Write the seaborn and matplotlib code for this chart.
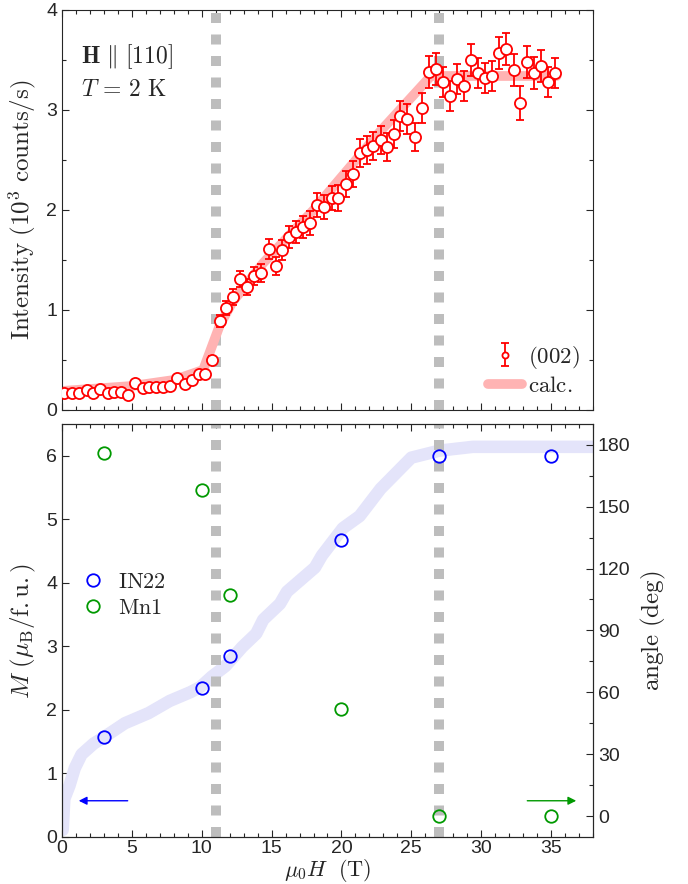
import numpy as np
import pandas as pd
import matplotlib
matplotlib.use('Agg')
import matplotlib.pyplot as plt
from matplotlib.ticker import MultipleLocator
import seaborn as sns

# top panel: (002) intensity vs field
field = [0.16, 0.75, 1.23, 1.76, 2.19, 2.72, 3.26, 3.74, 4.22, 4.75,
         5.25, 5.78, 6.26, 6.73, 7.21, 7.76, 8.24, 8.77, 9.29, 9.77,
         10.25, 10.75, 11.28, 11.76, 12.24, 12.76, 13.26, 13.74, 14.27, 14.79,
         15.29, 15.77, 16.25, 16.78, 17.26, 17.78, 18.26, 18.76, 19.29, 19.77,
         20.29, 20.8, 21.32, 21.8, 22.27, 22.8, 23.28, 23.76, 24.19, 24.71,
         25.27, 25.79, 26.27, 26.77, 27.3, 27.78, 28.3, 28.78, 29.26, 29.78,
         30.29, 30.77, 31.29, 31.79, 32.32, 32.8, 33.28, 33.8, 34.3, 34.78,
         35.26]
intensity = [0.17, 0.17, 0.17, 0.20, 0.17, 0.21, 0.17, 0.18, 0.18, 0.15,
             0.27, 0.22, 0.23, 0.23, 0.23, 0.24, 0.32, 0.26, 0.30, 0.36,
             0.36, 0.50, 0.89, 1.02, 1.13, 1.31, 1.23, 1.34, 1.37, 1.61,
             1.44, 1.60, 1.73, 1.78, 1.83, 1.87, 2.05, 2.03, 2.12, 2.12,
             2.26, 2.36, 2.57, 2.60, 2.64, 2.70, 2.63, 2.76, 2.94, 2.91,
             2.73, 3.02, 3.38, 3.41, 3.28, 3.14, 3.31, 3.24, 3.50, 3.37,
             3.32, 3.34, 3.57, 3.61, 3.40, 3.07, 3.48, 3.37, 3.44, 3.28,
             3.37]
intensity_err = [0.02, 0.02, 0.02, 0.02, 0.02, 0.02, 0.02, 0.02, 0.02, 0.02,
                 0.025, 0.02, 0.025, 0.025, 0.025, 0.025, 0.03, 0.025, 0.03, 0.03,
                 0.03, 0.04, 0.06, 0.07, 0.08, 0.08, 0.08, 0.09, 0.09, 0.10,
                 0.09, 0.10, 0.11, 0.11, 0.11, 0.12, 0.12, 0.12, 0.12, 0.13,
                 0.13, 0.13, 0.14, 0.14, 0.14, 0.14, 0.14, 0.14, 0.15, 0.15,
                 0.14, 0.15, 0.16, 0.16, 0.15, 0.15, 0.15, 0.15, 0.16, 0.15,
                 0.15, 0.15, 0.16, 0.16, 0.16, 0.17, 0.16, 0.16, 0.16, 0.15,
                 0.15]

calc_field = [0.0, 5.0, 8.0, 10.1, 11.3, 12.2, 14.4, 18.0, 22.8, 26.4, 35.4]
calc_int = [0.19, 0.24, 0.30, 0.40, 0.85, 1.08, 1.47, 2.00, 2.79, 3.34, 3.34]

# bottom panel: magnetisation and angle
m_field = [0.05, 0.17, 0.54, 0.91, 1.4, 2.27, 3.0, 4.5, 6.2, 7.7, 9.2, 9.9,
           10.7, 11.7, 12.9, 13.9, 14.4, 15.6, 16.1, 18.1, 18.6, 20.1, 21.3,
           22.8, 25.0, 27.0, 29.4, 38.0]
m_calc = [0.11, 0.60, 0.81, 1.08, 1.30, 1.47, 1.57, 1.79, 1.95, 2.14, 2.28, 2.36,
          2.52, 2.69, 2.99, 3.20, 3.42, 3.67, 3.86, 4.24, 4.43, 4.86, 5.05,
          5.48, 5.97, 6.08, 6.14, 6.14]

in22_field = [3, 10, 12, 20, 27, 35]
in22_m = [1.58, 2.35, 2.85, 4.68, 6.0, 6.0]
mn1_field = [3, 10, 12, 20, 27, 35]
mn1_angle = [176, 158, 107, 52, 0, 0]

transitions = [11, 27]

sns.set_style('ticks')
plt.rcParams['font.family'] = ['Liberation Sans', 'DejaVu Sans']
plt.rcParams['mathtext.fontset'] = 'cm'
plt.rcParams['xtick.direction'] = 'in'
plt.rcParams['ytick.direction'] = 'in'
plt.rcParams['axes.edgecolor'] = '#262626'
plt.rcParams['axes.linewidth'] = 0.8

fig = plt.figure(figsize=(6.88, 8.84), dpi=100)
ax1 = fig.add_axes([0.0901, 0.5362, 0.7718, 0.4525])
ax2 = fig.add_axes([0.0901, 0.0532, 0.7718, 0.4672])

grey = '#bdbdbd'
lab_fs = 18
tick_fs = 14

# ---- top panel
for t in transitions:
    ax1.axvline(t, color=grey, lw=7.2, linestyle=(0, (1.0, 1.15)),
                dash_capstyle='butt', zorder=1)
df_calc = pd.DataFrame({'B': calc_field, 'I': calc_int})
sns.lineplot(data=df_calc, x='B', y='I', ax=ax1, color='#ffb3b3', lw=7,
             sort=False, estimator=None, label=r'$\mathrm{calc.}$', zorder=2)
ax1.errorbar(field, intensity, yerr=intensity_err, fmt='o', color='red',
             mfc='white', ms=8, mew=1.3, capsize=3, elinewidth=1.3,
             capthick=1.3, label=r'$\mathrm{(002)}$', zorder=3)

ax1.set_xlim(0, 38)
ax1.set_ylim(0, 4)
ax1.xaxis.set_major_locator(MultipleLocator(5))
ax1.xaxis.set_minor_locator(MultipleLocator(1))
ax1.yaxis.set_major_locator(MultipleLocator(1))
ax1.yaxis.set_minor_locator(MultipleLocator(0.5))
ax1.tick_params(which='both', top=True, right=True, labelbottom=False,
                labelsize=tick_fs)
ax1.tick_params(which='major', length=5, width=0.8)
ax1.tick_params(which='minor', length=3, width=0.8)
ax1.set_xlabel('')
ax1.set_ylabel(r'$\mathrm{Intensity\ (10^3\ counts/s)}$', fontsize=lab_fs,
               labelpad=6)
ax1.text(1.38, 3.53, r'$\mathbf{H}\ \|\ [110]$', fontsize=17, va='center')
ax1.text(1.38, 3.20, r'$T\, =\, 2\ \mathrm{K}$', fontsize=17, va='center')

h, l = ax1.get_legend_handles_labels()
ax1.legend([h[1], h[0]], [l[1], l[0]], loc='lower right', frameon=False,
           fontsize=16.5, markerscale=0.55, handlelength=1.45, handletextpad=0.3,
           labelspacing=0.15, borderaxespad=0.15)

# ---- bottom panel
for t in transitions:
    ax2.axvline(t, color=grey, lw=7.2, linestyle=(0, (1.0, 1.15)),
                dash_capstyle='butt', zorder=2)
df_m = pd.DataFrame({'B': m_field, 'M': m_calc})
sns.lineplot(data=df_m, x='B', y='M', ax=ax2, color='#e4e4fa', lw=9,
             sort=False, estimator=None, zorder=1, legend=False)
df_in22 = pd.DataFrame({'B': in22_field, 'M': in22_m})
sns.lineplot(data=df_in22, x='B', y='M', ax=ax2, linestyle='', marker='o',
             ms=9, mfc='none', mec='blue', mew=1.3, color='blue',
             estimator=None, zorder=4, label=r'$\mathrm{IN22}$')

ax3 = ax2.twinx()
df_mn1 = pd.DataFrame({'B': mn1_field, 'angle': mn1_angle})
sns.lineplot(data=df_mn1, x='B', y='angle', ax=ax3, linestyle='', marker='o',
             ms=9, mfc='none', mec='#009900', mew=1.3, color='#009900',
             estimator=None, zorder=4, label=r'$\mathrm{Mn1}$')

ax2.set_xlim(0, 38)
ax2.set_ylim(0, 6.5)
ax3.set_ylim(-10, 190)
ax2.xaxis.set_major_locator(MultipleLocator(5))
ax2.xaxis.set_minor_locator(MultipleLocator(1))
ax2.yaxis.set_major_locator(MultipleLocator(1))
ax3.yaxis.set_major_locator(MultipleLocator(30))
ax3.yaxis.set_minor_locator(MultipleLocator(15))
ax2.tick_params(which='both', top=True, right=False, labelsize=tick_fs)
ax2.tick_params(axis='x', which='major', pad=2)
ax2.tick_params(which='major', length=5, width=0.8)
ax2.tick_params(which='minor', length=3, width=0.8)
ax3.tick_params(which='both', labelsize=tick_fs, direction='in')
ax3.tick_params(which='major', length=5, width=0.8)
ax3.tick_params(which='minor', length=3, width=0.8)
ax2.set_xlabel(r'$\mu_0 H\ \ \mathrm{(T)}$', fontsize=16, labelpad=0)
ax2.set_ylabel(r'$M\ (\mu_\mathrm{B}\mathrm{/f.u.})$', fontsize=lab_fs,
               labelpad=6)
ax3.set_ylabel(r'$\mathrm{angle\ (deg)}$', fontsize=lab_fs, labelpad=6)

ax2.annotate('', xy=(1.0, 0.57), xytext=(4.9, 0.57),
             arrowprops=dict(arrowstyle='-|>', color='blue', lw=1,
                             mutation_scale=12))
ax2.annotate('', xy=(37.0, 0.57), xytext=(33.1, 0.57),
             arrowprops=dict(arrowstyle='-|>', color='#009900', lw=1,
                             mutation_scale=12))

h2, l2 = ax2.get_legend_handles_labels()
h3, l3 = ax3.get_legend_handles_labels()
if ax3.get_legend() is not None:
    ax3.get_legend().remove()
ax2.legend(h2 + h3, l2 + l3, loc='center left', bbox_to_anchor=(0.0, 0.585),
           frameon=False, fontsize=16, handlelength=1.0, handletextpad=0.6,
           labelspacing=0.2)

fig.savefig('out.png', dpi=100)
